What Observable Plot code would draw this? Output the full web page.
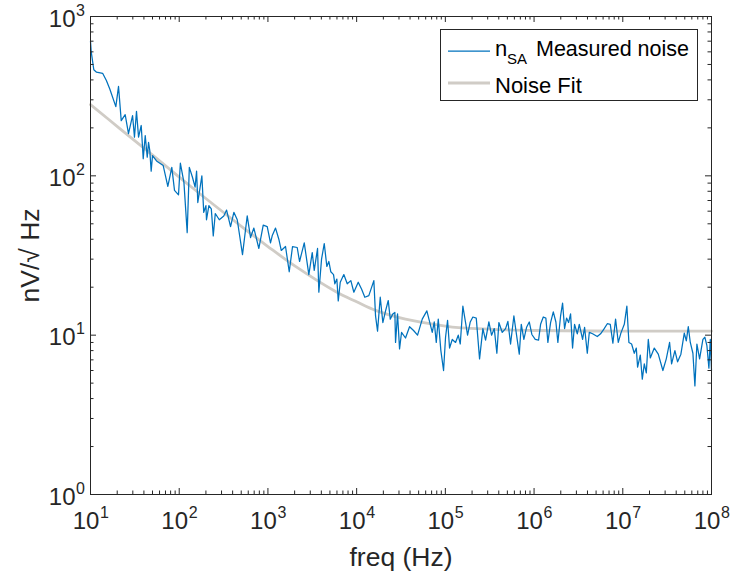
<!DOCTYPE html>
<html>
<head>
<meta charset="utf-8">
<script src="https://cdn.jsdelivr.net/npm/d3@7"></script>
<script src="https://cdn.jsdelivr.net/npm/@observablehq/plot@0.6"></script>
<style>
  html, body { margin: 0; padding: 0; background: #fff; }
</style>
</head>
<body>
<div id="chart"></div>
<script>
// ---- Measured noise (n_SA) ----
const freq = [
  10, 10.2, 10.9, 11.7, 13.7, 15.1, 16.5, 19.3, 20.7, 22.2, 24.6, 26.8, 29.8, 31.3, 33.0, 34.8,
  37.3, 39.3, 41.4, 43.6, 45.1, 46.6, 48.3, 50.0, 55.5, 66.0, 74.4, 82.5, 88.5, 98.2,
  103, 113, 123, 130, 141, 151, 157, 162, 180, 189, 200, 203, 216, 230, 242, 255, 283, 318,
  342, 379, 413, 451, 517, 584, 637, 694, 790, 885, 982,
  1069, 1117, 1218, 1327, 1413, 1579, 1738, 1894, 2138, 2272, 2567, 2891, 3158, 3327, 3624,
  3750, 4022, 4313, 4614, 4861, 5117, 5490, 5679, 5983, 6204, 6534, 7172, 7834, 8604, 9298,
  10420, 11350, 12370, 13720, 15630, 16330, 17200, 18450, 19740, 21180, 22720, 23920, 25590,
  26960, 27450, 28910, 30460, 32060, 35560, 39490, 43800, 48600, 54900, 61860, 67580, 71170,
  74980, 78980, 83180, 89000, 95440,
  100500, 105900, 111500, 119600, 130300, 139800, 147200, 157500, 169000, 178000, 190800,
  204200, 223000, 243000, 264800, 284000, 309400, 331800, 355900, 380700, 401100, 438000,
  477000, 506700, 543300, 592000, 634800, 681000, 717500, 767400, 823000, 882800, 944500,
  1.031e6, 1.124e6, 1.184e6, 1.270e6, 1.358e6, 1.431e6, 1.535e6, 1.647e6, 1.762e6, 1.855e6,
  1.990e6, 2.096e6, 2.207e6, 2.325e6, 2.449e6, 2.579e6, 2.716e6, 2.861e6, 3.070e6, 3.233e6,
  3.524e6, 3.711e6, 3.980e6, 4.192e6, 4.566e6, 5.159e6, 5.620e6, 6.123e6, 6.688e6, 7.228e6,
  7.733e6, 8.294e6, 8.898e6, 9.519e6,
  1.040e7, 1.112e7, 1.172e7, 1.257e7, 1.348e7, 1.420e7, 1.469e7, 1.575e7, 1.659e7, 1.748e7,
  1.841e7, 1.939e7, 2.042e7, 2.265e7, 2.512e7, 2.831e7, 3.093e7, 3.371e7, 3.550e7, 3.868e7,
  4.148e7, 4.519e7, 4.935e7, 5.200e7, 5.477e7, 5.768e7, 6.171e7, 6.500e7, 6.846e7, 7.342e7,
  8.002e7, 8.427e7, 8.875e7, 9.348e7, 9.694e7, 1e8
];
const noise = [
  700, 597, 463, 447, 440, 397, 351, 272, 364, 222, 242, 184, 239, 175, 254, 175,
  207, 128, 179, 131, 162, 144, 107, 134, 124, 116, 86, 113, 81, 76,
  120, 91, 44, 113, 98, 85, 107, 68, 100, 59, 65, 53, 65, 62, 42, 58, 53, 56,
  61, 48, 59, 53, 32, 56, 41, 47, 35, 49, 48,
  38, 42, 47, 40, 34, 36, 25, 36, 35.5, 29, 38, 24, 33, 25.5, 35,
  18.6, 30, 37.6, 27, 29, 25, 24, 21, 22.5, 16.4, 21.5, 24, 21, 22, 18.6,
  21.5, 19.5, 17.3, 17.7, 22, 13.2, 10.6, 17.3, 12.0, 14.2, 16.5, 12.6, 13.6,
  13.9, 9.0, 13.6, 8.2, 10.4, 9.6, 11.3, 10.7, 10.0, 12.6, 14.2, 11.7, 10.4,
  12.1, 9.0, 12.6, 8.0, 6.0,
  9.7, 12.4, 8.3, 9.4, 9.0, 10.0, 8.8, 15.2, 12.0, 10.0, 12.1,
  13.0, 12.8, 7.1, 11.0, 9.3, 12.1, 10.0, 11.0, 7.7, 12.0, 10.4,
  11.0, 12.2, 8.8, 13.2, 10.0, 7.6, 11.7, 9.4, 11.2, 12.1, 10.1,
  9.4, 9.3, 11.7, 13.0, 12.8, 9.0, 12.0, 14.0, 12.1, 9.0,
  13.2, 15.9, 11.0, 12.8, 12.0, 13.6, 8.3, 11.7, 10.2, 11.7,
  9.4, 11.2, 7.7, 10.4, 10.2, 9.8, 10.2, 10.9, 11.8, 11.7,
  8.9, 12.6, 9.0, 10.3,
  11.7, 15.2, 9.0, 8.8, 7.7, 8.3, 6.3, 7.5, 5.3, 6.6,
  5.8, 9.4, 7.2, 8.3, 7.6, 6.0, 7.1, 9.0, 6.6, 8.0,
  6.8, 7.6, 10.3, 9.2, 11.3, 9.0, 7.7, 4.8, 8.8, 7.1,
  9.4, 9.7, 8.6, 6.2, 9.4, 6.0
];

// ---- Noise fit ----
const fitFreq  = [10, 21.4, 50.9, 134, 559, 1000, 2047, 5781, 1e4, 16330, 35560, 1e5, 1.41e5, 4.77e5, 1e6, 1e7, 1e8];
const fitValue = [280, 198, 134, 86, 46, 36, 27, 18.8, 16.2, 14.3, 12.6, 11.4, 11.15, 10.8, 10.7, 10.6, 10.6];

// ---- Axes ----
const xTicks = [1e1, 1e2, 1e3, 1e4, 1e5, 1e6, 1e7, 1e8];
const xExp = ["1", "2", "3", "4", "5", "6", "7", "8"];
const yTicks = [1, 10, 100, 1000];
const yExp = ["0", "1", "2", "3"];
const xLabel = "freq (Hz)";
const yLabel = "nV/\u221A Hz";
const legendLabels = ["Measured noise", "Noise Fit"];

const measured = freq.map((f, i) => ({f, v: noise[i]}));
const fit = fitFreq.map((f, i) => ({f, v: fitValue[i]}));

const minorX = [];
for (let k = 1; k < 8; k++) for (let m = 2; m <= 9; m++) minorX.push(m * Math.pow(10, k));
const minorY = [];
for (let k = 0; k < 3; k++) for (let m = 2; m <= 9; m++) minorY.push(m * Math.pow(10, k));

const ink = "#262626";
const blue = "#0072BD";
const gray = "#d0ccc6";
const font = "'Liberation Sans', Arial, Helvetica, sans-serif";

const W = 732, H = 576, mL = 90, mR = 21, mT = 16, mB = 82;
const plotW = W - mL - mR, plotH = H - mT - mB;
const major = 6, minor = 3.5;

// inward tick marks on all four sides, drawn as rules clipped by insets
const tickMarks = [
  Plot.ruleX(xTicks, {x: d => d, insetTop: plotH - major, stroke: ink}),
  Plot.ruleX(xTicks, {x: d => d, insetBottom: plotH - major, stroke: ink}),
  Plot.ruleX(minorX, {x: d => d, insetTop: plotH - minor, stroke: ink}),
  Plot.ruleX(minorX, {x: d => d, insetBottom: plotH - minor, stroke: ink}),
  Plot.ruleY(yTicks, {y: d => d, insetRight: plotW - major, stroke: ink}),
  Plot.ruleY(yTicks, {y: d => d, insetLeft: plotW - major, stroke: ink}),
  Plot.ruleY(minorY, {y: d => d, insetRight: plotW - minor, stroke: ink}),
  Plot.ruleY(minorY, {y: d => d, insetLeft: plotW - minor, stroke: ink})
];

const plot = Plot.plot({
  width: W,
  height: H,
  marginLeft: mL,
  marginRight: mR,
  marginTop: mT,
  marginBottom: mB,
  x: {type: "log", domain: [10, 1e8], axis: null},
  y: {type: "log", domain: [1, 1000], axis: null},
  style: {fontFamily: font, background: "#fff", overflow: "visible"},
  marks: [
    Plot.line(fit, {x: "f", y: "v", stroke: gray, strokeWidth: 2.8, curve: "catmull-rom"}),
    Plot.line(measured, {x: "f", y: "v", stroke: blue, strokeWidth: 1.25, strokeLinejoin: "round"}),
    ...tickMarks,
    Plot.frame({stroke: ink, strokeWidth: 1}),
    // x tick labels 10^k
    Plot.text(xTicks, {x: d => d, frameAnchor: "bottom", text: () => "10", dy: 34, dx: -4.5,
      lineAnchor: "bottom", textAnchor: "middle", fontSize: 24, fill: ink}),
    Plot.text(xTicks, {x: d => d, frameAnchor: "bottom", text: (d, i) => xExp[i], dy: 23, dx: 9.5,
      lineAnchor: "bottom", textAnchor: "start", fontSize: 16, fill: ink}),
    // y tick labels 10^k
    Plot.text(yTicks, {y: d => d, frameAnchor: "left", text: () => "10", dx: -15, dy: 10,
      lineAnchor: "bottom", textAnchor: "end", fontSize: 24, fill: ink}),
    Plot.text(yTicks, {y: d => d, frameAnchor: "left", text: (d, i) => yExp[i], dx: -14.5, dy: -1,
      lineAnchor: "bottom", textAnchor: "start", fontSize: 16, fill: ink}),
    // axis labels
    Plot.text([xLabel], {frameAnchor: "bottom", text: d => d, dy: 71, lineAnchor: "bottom",
      textAnchor: "middle", fontSize: 26.5, fill: ink}),
    Plot.text([yLabel], {frameAnchor: "left", text: d => d, dx: -60, rotate: -90,
      lineAnchor: "middle", textAnchor: "middle", fontSize: 26.5, fill: ink})
  ]
});

document.getElementById("chart").appendChild(plot);

// ---- Legend (drawn into the same SVG) ----
const svg = d3.select(plot);
const lg = svg.append("g").attr("font-family", font).attr("fill", "#000")
  .attr("text-anchor", "start");
lg.append("rect").attr("x", 440.5).attr("y", 29.5).attr("width", 257).attr("height", 71)
  .attr("fill", "#fff").attr("stroke", ink).attr("stroke-width", 1);
lg.append("line").attr("x1", 448).attr("x2", 490).attr("y1", 51).attr("y2", 51)
  .attr("stroke", blue).attr("stroke-width", 1.25);
lg.append("line").attr("x1", 448).attr("x2", 490).attr("y1", 83).attr("y2", 83)
  .attr("stroke", gray).attr("stroke-width", 2.8);
lg.append("text").attr("x", 495).attr("y", 56).attr("font-size", 22).text("n");
lg.append("text").attr("x", 507).attr("y", 64).attr("font-size", 15).text("SA");
lg.append("text").attr("x", 536).attr("y", 56).attr("font-size", 22)
  .attr("textLength", 153).attr("lengthAdjust", "spacingAndGlyphs").text(legendLabels[0]);
lg.append("text").attr("x", 495).attr("y", 92.5).attr("font-size", 22).text(legendLabels[1]);
</script>
</body>
</html>
